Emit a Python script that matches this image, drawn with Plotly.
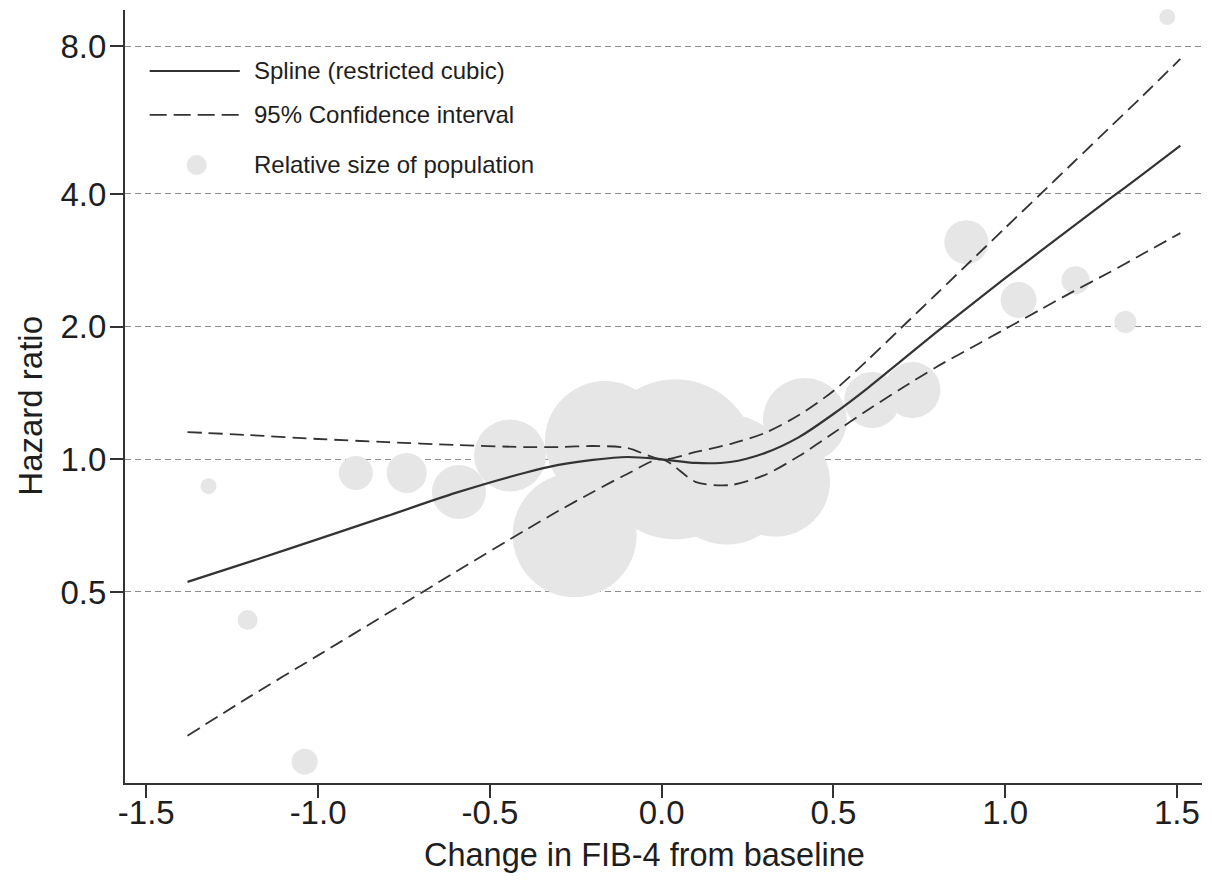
import plotly.graph_objects as go

# ---------------- data ----------------
x_curve = [-1.38, -1.2, -1.0, -0.8, -0.6, -0.4, -0.3, -0.2, -0.1, 0.0, 0.1, 0.2, 0.3,
           0.4, 0.5, 0.6, 0.7, 0.8, 0.9, 1.0, 1.1, 1.2, 1.3, 1.4, 1.51]
hr_spline = [0.527, 0.585, 0.659, 0.743, 0.839, 0.931, 0.971, 0.997, 1.012, 1.000, 0.981,
             0.986, 1.033, 1.123, 1.267, 1.451, 1.679, 1.944, 2.239, 2.578, 2.954, 3.384,
             3.877, 4.43, 5.15]
hr_upper = [1.153, 1.135, 1.112, 1.094, 1.078, 1.066, 1.066, 1.072, 1.061, 1.000, 1.039,
            1.083, 1.147, 1.260, 1.429, 1.680, 1.996, 2.372, 2.818, 3.349, 3.978, 4.727,
            5.617, 6.674, 8.10]
hr_lower = [0.236, 0.289, 0.359, 0.446, 0.555, 0.688, 0.764, 0.843, 0.926, 1.000, 0.888,
            0.874, 0.921, 1.017, 1.147, 1.294, 1.451, 1.620, 1.789, 1.975, 2.181, 2.408,
            2.646, 2.922, 3.26]

bubble_x = [1.472, -1.319, -1.205, -1.039, -0.890, -0.742, -0.590, -0.441, -0.253, -0.165,
            0.040, 0.190, 0.330, 0.417, 0.613, 0.730, 0.887, 1.039, 1.205, 1.350]
bubble_hr = [10.08, 0.869, 0.432, 0.206, 0.931, 0.931, 0.843, 1.02, 0.673, 1.10,
             1.00, 0.900, 0.890, 1.228, 1.363, 1.436, 3.11, 2.30, 2.55, 2.05]
bubble_pop = [64, 64, 100, 169, 289, 400, 729, 1296, 3844, 3600,
              6400, 4225, 3025, 1764, 784, 784, 484, 324, 196, 121]

x_tickvals = [-1.5, -1.0, -0.5, 0.0, 0.5, 1.0, 1.5]
x_ticktext = ["-1.5", "-1.0", "-0.5", "0.0", "0.5", "1.0", "1.5"]
y_tickvals = [0.5, 1.0, 2.0, 4.0, 8.66]
y_ticktext = ["0.5", "1.0", "2.0", "4.0", "8.0"]

legend_labels = ["Spline (restricted cubic)", "95% Confidence interval", "Relative size of population"]
x_title = "Change in FIB-4 from baseline"
y_title = "Hazard ratio"

# ---------------- styles ----------------
FONT = "Liberation Sans, Arial, Helvetica, sans-serif"
DARK = "#333333"
TEXT = "#1e1e1e"
BUBBLE = "rgb(230,230,230)"
DASH = "14px,7px"

fig = go.Figure()

fig.add_trace(go.Scatter(
    x=bubble_x, y=bubble_hr, mode="markers",
    marker=dict(size=bubble_pop, sizemode="area", sizeref=0.5, color=BUBBLE,
                line=dict(width=0), opacity=1),
    cliponaxis=False, hoverinfo="skip", name=legend_labels[2]))

fig.add_trace(go.Scatter(
    x=x_curve, y=hr_upper, mode="lines",
    line=dict(color=DARK, width=1.8, dash=DASH, shape="spline", smoothing=0.8),
    name=legend_labels[1]))
fig.add_trace(go.Scatter(
    x=x_curve, y=hr_lower, mode="lines",
    line=dict(color=DARK, width=1.8, dash=DASH, shape="spline", smoothing=0.8),
    name=legend_labels[1]))
fig.add_trace(go.Scatter(
    x=x_curve, y=hr_spline, mode="lines",
    line=dict(color=DARK, width=2.2, shape="spline", smoothing=0.8),
    name=legend_labels[0]))

# ---------------- custom legend ----------------
row_y = [0.9211, 0.8642, 0.7995]
shapes = [
    dict(type="line", xref="paper", yref="paper", x0=0.0229, x1=0.1066,
         y0=row_y[0], y1=row_y[0], line=dict(color=DARK, width=2.2)),
    dict(type="line", xref="paper", yref="paper", x0=0.0229, x1=0.1066,
         y0=row_y[1], y1=row_y[1], line=dict(color=DARK, width=1.8, dash="17px,7px")),
    dict(type="circle", xref="paper", yref="paper", x0=0.0573, x1=0.0759,
         y0=0.7865, y1=0.8124, fillcolor=BUBBLE, line=dict(width=0)),
]
annotations = [
    dict(xref="paper", yref="paper", x=0.1177, y=yy, text=t, showarrow=False,
         xanchor="left", yanchor="middle", font=dict(family=FONT, size=24, color=TEXT))
    for t, yy in zip(legend_labels, row_y)
]
annotations.append(dict(xref="paper", yref="paper", x=-0.0885, y=0.4877, text=y_title,
                        textangle=-90, showarrow=False, xanchor="center", yanchor="middle",
                        font=dict(family=FONT, size=33, color=TEXT)))
annotations.append(dict(xref="paper", yref="paper", x=0.4828, y=-0.0931, text=x_title,
                        showarrow=False, xanchor="center", yanchor="middle",
                        font=dict(family=FONT, size=32.5, color=TEXT)))

fig.update_layout(
    width=1212, height=888,
    margin=dict(l=125, r=10, t=10, b=105),
    plot_bgcolor="white", paper_bgcolor="white",
    showlegend=False,
    font=dict(family=FONT, size=33, color=TEXT),
    shapes=shapes, annotations=annotations,
)
fig.update_xaxes(
    range=[-1.562, 1.573], tickvals=x_tickvals, ticktext=x_ticktext,
    showgrid=False, zeroline=False, showline=True, linecolor=DARK, linewidth=2,
    ticks="outside", ticklen=13, tickwidth=2, tickcolor=DARK,
    tickfont=dict(size=33), automargin=False, ticklabelstandoff=-14,
)
fig.update_yaxes(
    type="log", range=[-0.7345, 1.0195], tickvals=y_tickvals, ticktext=y_ticktext,
    showgrid=True, gridcolor="#8c8c8c", gridwidth=1.2, griddash="6px,4px",
    zeroline=False, showline=True, linecolor=DARK, linewidth=2,
    ticks="outside", ticklen=13, tickwidth=2, tickcolor=DARK,
    tickfont=dict(size=33), automargin=False, ticklabelstandoff=-3,
)

fig.write_html("out.html")
